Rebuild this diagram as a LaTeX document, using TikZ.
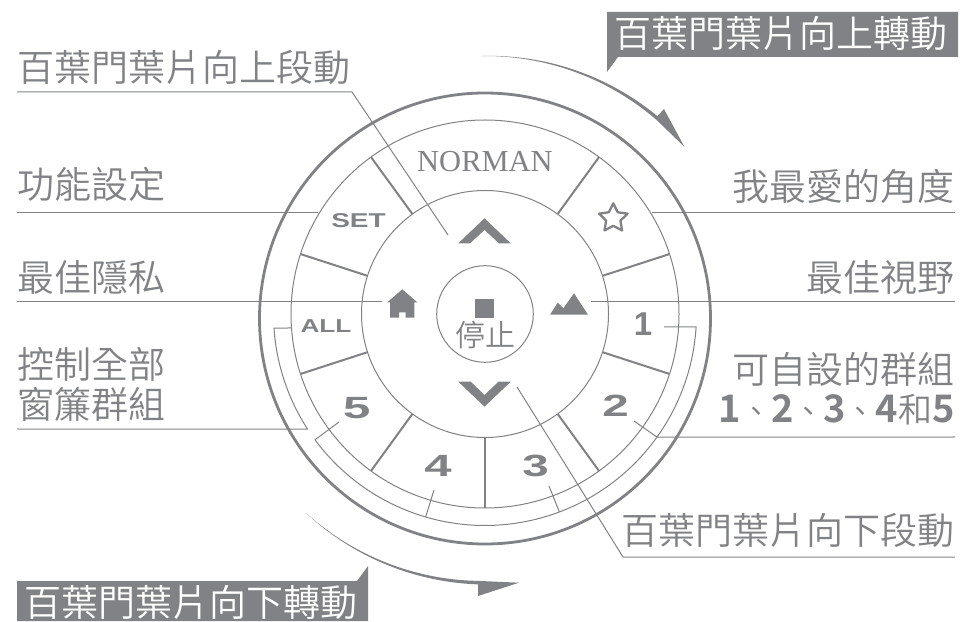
\documentclass[tikz,border=0pt]{standalone}
\usepackage{fontspec}
\usetikzlibrary{calc,shapes.geometric}
\setmainfont{Noto Sans CJK TC DemiLight}[BoldFont=Noto Sans CJK TC Bold]
\newfontfamily\logofont{Liberation Serif}
\newfontfamily\btnfont{Liberation Sans}[BoldFont=Liberation Sans Bold]
\definecolor{normgray}{HTML}{808285}
\newcommand{\btnwide}[2]{\scalebox{#1}[1]{\btnfont\bfseries #2}}
\newcommand{\groupnum}[1]{{\fontsize{38}{40}\selectfont\bfseries #1}}
\tikzset{caption/.style={inner sep=0, text=normgray, font=\fontsize{37}{40}\selectfont}}
\tikzset{banner/.style={inner sep=0, text=white, font=\fontsize{37}{40}\selectfont}}
\tikzset{button/.style={inner sep=0, text=normgray}}
\tikzset{ring/.style={draw=normgray, line width=1pt}}
\tikzset{spoke/.style={draw=normgray, line width=2pt}}
\tikzset{line/.style={draw=normgray, line width=1pt, line join=round}}
\tikzset{icon/.style={fill=normgray, draw=none}}

\begin{document}
\begin{tikzpicture}[x=1pt,y=1pt]
    \useasboundingbox (0,0) rectangle (960,621);
    \coordinate (ringc) at (485,307);
    \coordinate (outerc) at (485,302.5);
    \coordinate (turnc) at (485,303);

    % rings and spokes
    \draw [ring, line width=2.8pt] (outerc) circle [radius=225.5];
    \draw [ring] (ringc) circle [radius=194];
    \draw [ring] (ringc) circle [radius=123.5];
    \draw [ring] (ringc) circle [radius=48.3];
    \foreach \a in {54,18,-18,-54,-90,-126,-162,162,126}
        \path [spoke] ($(ringc)+(\a:123.5)$) -- ($(ringc)+(\a:194)$);

    % buttons
    \node [button, font=\fontsize{30.5}{32}\selectfont] (norman) at (485,449) [anchor=base] {\logofont NORMAN};
    \node [button, font=\fontsize{20}{22}\selectfont] (set) at (358.5,400.5) {\btnwide{1.4}{SET}};
    \node [button, font=\fontsize{18.7}{20}\selectfont] (all) at (326,295) {\btnwide{1.4}{ALL}};
    \node [button, font=\fontsize{33}{35}\selectfont] (one) at (643,297.3) {\btnwide{1}{1}};
    \node [button, font=\fontsize{30.7}{32}\selectfont] (two) at (615.7,215.2) {\btnwide{1.55}{2}};
    \node [button, font=\fontsize{30.7}{32}\selectfont] (three) at (535.5,155.2) {\btnwide{1.55}{3}};
    \node [button, font=\fontsize{30.7}{32}\selectfont] (four) at (438,155) {\btnwide{1.6}{4}};
    \node [button, font=\fontsize{30.7}{32}\selectfont] (five) at (356.7,213) {\btnwide{1.6}{5}};
    \node [star, star points=5, star point ratio=2, draw=normgray, line width=2.3pt, line join=round, minimum size=30pt, inner sep=0] (fav) at (613.3,402.7) {};
    \node [icon, minimum size=19pt, inner sep=0] (stop) at (484.5,312.5) {};
    \node [caption, font=\fontsize{30}{32}\selectfont, anchor=base] (stoptext) at (485.5,274) {停止};

    % icons
    \fill [icon] (458.3,377.7)--(484.5,402.7)--(510.7,377.7)--(499,377.7)--(484.5,391)--(470,377.7)--cycle;
    \fill [icon] (458.3,239.3)--(470.7,239.3)--(484.5,226)--(498.5,239.3)--(510.7,239.3)--(484.5,214.3)--cycle;
    \fill [icon] (402.3,331.7)--(417.3,318.7)--(414.3,318.7)--(414.3,303.3)--(405.7,303.3)--(405.7,308.7)--(399,308.7)--(399,303.3)--(390,303.3)--(390,318.7)--(387.3,318.7)--cycle;
    \fill [icon] (550,306.3)--(557.7,318.3)--(563.3,312.7)--(574,327.7)--(588,306.3)--cycle;

    % turning arrows
    \begin{scope}[shift={(turnc)}]
        \fill [icon] plot [domain=90.9:49.5,samples=40] (\x:{262+3.5*(90.9-\x)/41.4}) -- (179,209) -- (199.5,171) -- plot [domain=49:90.9,samples=40] (\x:262) -- cycle;
        \fill [icon] plot [domain=227.4:268.5,samples=40] (\x:{264.7+1.8*(\x-227.4)/41.1}) -- (-7,-278) -- (34,-264.7) -- plot [domain=268.5:227.4,samples=40] (\x:{263+1.7*(268.5-\x)/41.1}) -- cycle;
    \end{scope}
    \fill [icon] (607,549) -- (618,564) -- (958,564) -- (958,609) -- (607,609) -- cycle;
    \fill [icon] (17,0) -- (17,40) -- (357,40) -- (368,55) -- (368,0) -- cycle;
    \node [banner, anchor=base west] (upbanner) at (614,573) {百葉門葉片向上轉動};
    \node [banner, anchor=base west] (downbanner) at (24,4.6) {百葉門葉片向下轉動};

    % captions
    \node [caption, anchor=base west] (stepup) at (17,539) {百葉門葉片向上段動};
    \node [caption, anchor=base west] (setup) at (17,422) {功能設定};
    \node [caption, anchor=base west] (privacy) at (17,329) {最佳隱私};
    \node [caption, anchor=base west] (allone) at (17,242) {控制全部};
    \node [caption, anchor=base west] (alltwo) at (17,202) {窗簾群組};
    \node [caption, anchor=base east] (favourite) at (955,420) {我最愛的角度};
    \node [caption, anchor=base east] (view) at (955,329) {最佳視野};
    \node [caption, anchor=base east] (groupone) at (955,237) {可自設的群組};
    \node [caption, anchor=base east, font=\fontsize{30}{36}\selectfont] (grouptwo) at (955,198) {\groupnum{1}、\groupnum{2}、\groupnum{3}、\groupnum{4}{\fontsize{34}{36}\selectfont 和}\groupnum{5}};
    \node [caption, anchor=base east] (stepdown) at (955,77) {百葉門葉片向下段動};

    % leader lines
    \coordinate (upstart) at (17,529);
    \coordinate (upknee) at (352,529);
    \coordinate (upend) at (448,386);
    \coordinate (setstart) at (17,408);
    \coordinate (setend) at (318,408);
    \coordinate (homestart) at (17,319);
    \coordinate (homeend) at (382,319);
    \coordinate (favstart) at (652,408);
    \coordinate (favend) at (955,408);
    \coordinate (viewstart) at (591,319);
    \coordinate (viewend) at (955,319);
    \coordinate (downstart) at (517,234);
    \coordinate (downknee) at (623,64);
    \coordinate (downend) at (955,64);
    \path [line] (upstart) -- (upknee) -- (upend);
    \path [line] (setstart) -- (setend);
    \path [line] (homestart) -- (homeend);
    \path [line] (favstart) -- (favend);
    \path [line] (viewstart) -- (viewend);
    \path [line] (downstart) -- (downknee) -- (downend);

    % group brackets
    \coordinate (allin) at (291,293);
    \coordinate (allarc) at ($(ringc)+(183.8:211.5)$);
    \coordinate (allleft) at (17,192);
    \coordinate (fivetick) at (339,199);
    \coordinate (grouparc) at ($(ringc)+(216.5:211.5)$);
    \coordinate (groupright) at (955,184);
    \coordinate (oneout) at (664,294);
    \coordinate (onearc) at ($(ringc)+(-3.5:211.5)$);
    \coordinate (twotick) at (634,200);
    \coordinate (twoarc) at ($(ringc)+(-35.6:211.5)$);
    \coordinate (threetick) at (549,135);
    \coordinate (threearc) at ($(ringc)+(-69.4:211.5)$);
    \coordinate (fourtick) at (434,131);
    \coordinate (fourarc) at ($(ringc)+(-106.3:211.5)$);
    \path [line] (allin) -- (allarc) arc [start angle=183.8, end angle=213, radius=211.5] -- (allleft);
    \path [line] (fivetick) -- (grouparc) arc [start angle=216.5, end angle=324.4, radius=211.5];
    \path [line] (oneout) -- (onearc) arc [start angle=-3.5, end angle=-35.6, radius=211.5] -- (groupright);
    \path [line] (twotick) -- (twoarc);
    \path [line] (threetick) -- (threearc);
    \path [line] (fourtick) -- (fourarc);
\end{tikzpicture}
\end{document}
